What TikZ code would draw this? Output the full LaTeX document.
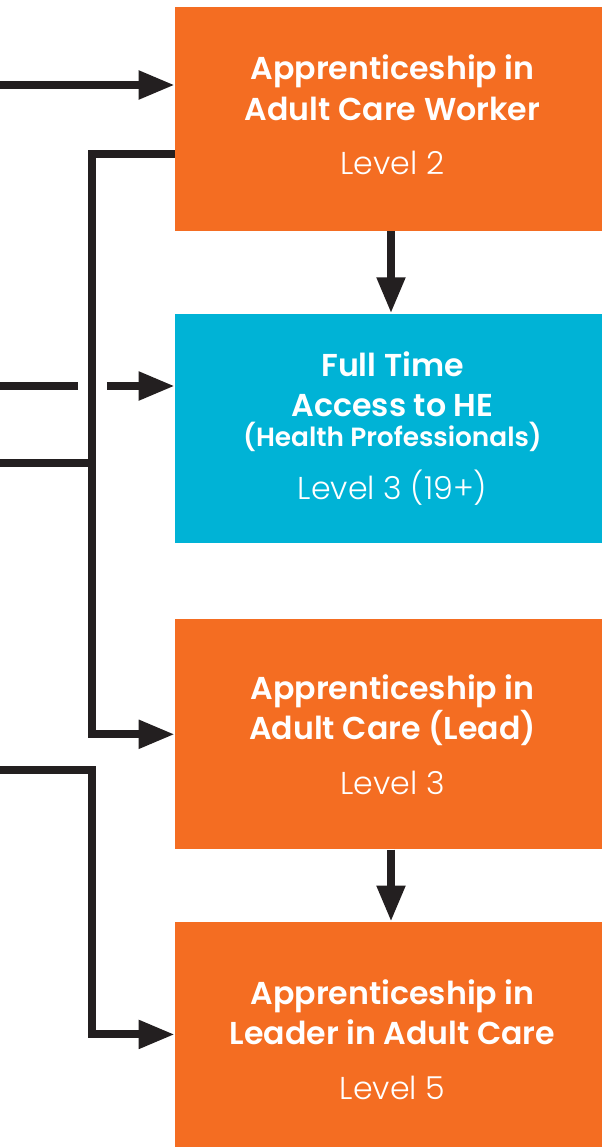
\documentclass[tikz,border=0pt]{standalone}
\usepackage{fontspec}
\setmainfont{Poppins}[BoldFont={Poppins SemiBold}]
\newfontfamily\lightfont{Poppins Light}
\usetikzlibrary{positioning,arrows.meta}
\definecolor{careorange}{HTML}{F46D22}
\definecolor{hecyan}{HTML}{00B3D6}
\definecolor{linegrey}{HTML}{231F20}

\begin{document}
\begin{tikzpicture}[x=0.02cm, y=-0.02cm,
    every node/.style={align=center, text=white, inner sep=0pt,
      font=\fontsize{18}{23}\selectfont},
    course/.style={rectangle, fill=careorange, minimum width=8.7cm, minimum height=4.5cm},
    access/.style={course, fill=hecyan, minimum height=4.58cm},
    link/.style={draw=linegrey, line width=4.5pt},
    arr/.style={link, -{Triangle[length=0.72cm,width=0.54cm]}}]

  \useasboundingbox (0,0) rectangle (602,1147);

  \node[course, minimum height=4.48cm, text depth=0.16cm] (worker) at (392.5,119) {\textbf{Apprenticeship in}\\\textbf{Adult Care Worker}\\[8pt]{\lightfont Level 2}};
  \node[access, below=1.64cm of worker] (he) {\textbf{Full Time}\\\textbf{Access to HE}\\[-6pt]{\fontsize{15}{17}\selectfont\textbf{(Health Professionals)}}\\[7pt]{\lightfont Level 3 (19+)}};
  \node[course, minimum height=4.6cm, below=1.52cm of he] (lead) {\textbf{Apprenticeship in}\\\textbf{Adult Care (Lead)}\\[8pt]{\lightfont Level 3}};
  \node[course, minimum height=4.7cm, below=1.44cm of lead] (leader) {\textbf{Apprenticeship in}\\\textbf{Leader in Adult Care}\\[8pt]{\lightfont Level 5}};

  % entries coming from the left
  \coordinate (inA) at (0,85);
  \coordinate (inB) at (0,386);
  \coordinate (inC) at (0,463);
  \coordinate (inD) at (0,770);
  \coordinate (split) at (92,154);
  \coordinate (turn) at (92,770);
  \coordinate (intoLeader) at ([yshift=0.1cm]leader.west);

  \draw[arr] (inA) -- (inA -| worker.west);
  \draw[arr, dash pattern=on 1.56cm off 0.58cm] (inB) -- (inB -| he.west);
  \draw[link] (inC) -- (inC -| split);
  \draw[arr] (split -| worker.west) -- (split) -- (split |- lead.west) -- (lead.west);
  \draw[arr] (inD) -- (turn) -- (turn |- intoLeader) -- (intoLeader);

  \draw[arr] (391,0 |- worker.south) -- (391,0 |- he.north);
  \draw[arr] (391,0 |- lead.south) -- (391,0 |- leader.north);

\end{tikzpicture}
\end{document}
